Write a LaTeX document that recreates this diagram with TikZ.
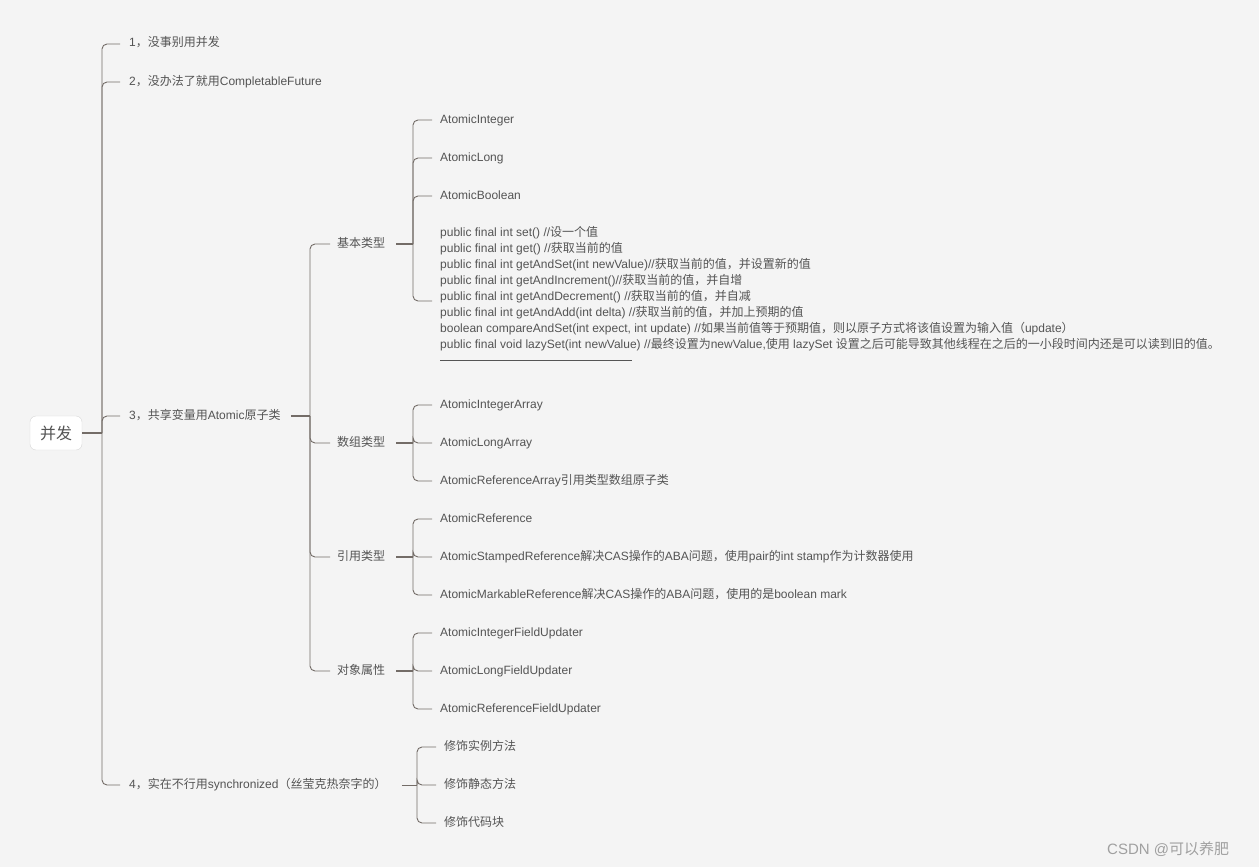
\documentclass[tikz,border=0pt]{standalone}
\usepackage{fontspec}
\setmainfont{Liberation Sans}
\newfontfamily\cjkf{Noto Sans CJK SC}
\newcount\cjkcnt
\XeTeXinterchartokenstate=1
\newXeTeXintercharclass\cjkcls
\cjkcnt="3000
\loop \XeTeXcharclass\cjkcnt=\cjkcls \advance\cjkcnt by 1 \ifnum\cjkcnt<"3040 \repeat
\cjkcnt="4E00
\loop \XeTeXcharclass\cjkcnt=\cjkcls \advance\cjkcnt by 1 \ifnum\cjkcnt<"A000 \repeat
\cjkcnt="FF00
\loop \XeTeXcharclass\cjkcnt=\cjkcls \advance\cjkcnt by 1 \ifnum\cjkcnt<"FFF0 \repeat
\XeTeXinterchartoks 0 \cjkcls = {\cjkf}
\XeTeXinterchartoks 4095 \cjkcls = {\cjkf}
\XeTeXinterchartoks \cjkcls 0 = {\rmfamily}
\XeTeXinterchartoks \cjkcls 4095 = {\rmfamily}
\definecolor{bg}{RGB}{244,244,244}
\definecolor{txt}{RGB}{84,84,84}
\definecolor{ln}{RGB}{115,108,103}
\definecolor{bd}{RGB}{215,215,215}
\definecolor{wm}{RGB}{160,160,160}
\tikzset{
  lbl/.style={anchor=west, inner sep=0pt, yshift=-2pt, text height=9pt, text depth=3pt, font=\fontsize{12}{14}\selectfont, text=txt},
  rootbox/.style={draw=bd, fill=white, rounded corners=6pt, minimum width=52pt, minimum height=34pt, inner sep=0pt, font=\fontsize{16}{18}\selectfont, text=txt},
  conn/.style={draw=ln, line width=0.9pt, rounded corners=5pt},
  stub/.style={draw=ln, line width=1.8pt},
  codeblk/.style={anchor=north west, inner sep=0pt, align=left, font=\fontsize{12}{16}\selectfont, text=txt},
}
\begin{document}
\begin{tikzpicture}[x=1pt, y=-1pt]
\fill[bg] (0,0) rectangle (1259,867);
\useasboundingbox (0,0) rectangle (1259,867);

% root
\node[rootbox] (root) at (56,433) {并发};
\coordinate (j0) at (102,433);
% level 1
\node[lbl] (a1) at (129,42) {1，没事别用并发};
\node[lbl] (a2) at (129,80) {2，没办法了就用CompletableFuture};
\node[lbl] (a3) at (129,414) {3，共享变量用Atomic原子类};
\node[lbl] (a4) at (129,783) {4，实在不行用synchronized（丝莹克热奈字的）};
\draw[stub] (root.east) -- (j0);
\foreach \n in {a1,a2,a3,a4}{ \draw[conn] (j0) |- ([xshift=-9pt]\n.west); }

% level 2 under a3
\coordinate (j3) at (310,416);
\draw[stub] ([xshift=10pt]a3.east) -- (j3);
\node[lbl] (b1) at (337,242) {基本类型};
\node[lbl] (b2) at (337,441) {数组类型};
\node[lbl] (b3) at (337,555) {引用类型};
\node[lbl] (b4) at (337,669) {对象属性};
\foreach \n in {b1,b2,b3,b4}{ \draw[conn] (j3) |- ([xshift=-7pt]\n.west); }

% level 3 under b1
\coordinate (jb1) at (413,244);
\draw[stub] ([xshift=11pt]b1.east) -- (jb1);
\node[lbl] (c11) at (440,118) {AtomicInteger};
\node[lbl] (c12) at (440,156) {AtomicLong};
\node[lbl] (c13) at (440,194) {AtomicBoolean};
\node[codeblk] (code) at (440,226) {public final int set() //设一个值\\
public final int get() //获取当前的值\\
public final int getAndSet(int newValue)//获取当前的值，并设置新的值\\
public final int getAndIncrement()//获取当前的值，并自增\\
public final int getAndDecrement() //获取当前的值，并自减\\
public final int getAndAdd(int delta) //获取当前的值，并加上预期的值\\
boolean compareAndSet(int expect, int update) //如果当前值等于预期值，则以原子方式将该值设置为输入值（update）\\
public final void lazySet(int newValue) //最终设置为newValue,使用 lazySet 设置之后可能导致其他线程在之后的一小段时间内还是可以读到旧的值。\\
\rule[3.5pt]{192pt}{0.7pt}};
\coordinate (codein) at (432,301);
\foreach \n in {c11,c12,c13}{ \draw[conn] (jb1) |- ([xshift=-8pt]\n.west); }
\draw[conn] (jb1) |- (codein);

% level 3 under b2
\coordinate (jb2) at (413,443);
\draw[stub] ([xshift=11pt]b2.east) -- (jb2);
\node[lbl] (c21) at (440,403) {AtomicIntegerArray};
\node[lbl] (c22) at (440,441) {AtomicLongArray};
\node[lbl] (c23) at (440,479) {AtomicReferenceArray引用类型数组原子类};
\foreach \n in {c21,c22,c23}{ \draw[conn] (jb2) |- ([xshift=-8pt]\n.west); }

% level 3 under b3
\coordinate (jb3) at (413,557);
\draw[stub] ([xshift=11pt]b3.east) -- (jb3);
\node[lbl] (c31) at (440,517) {AtomicReference};
\node[lbl] (c32) at (440,555) {AtomicStampedReference解决CAS操作的ABA问题，使用pair的int stamp作为计数器使用};
\node[lbl] (c33) at (440,593) {AtomicMarkableReference解决CAS操作的ABA问题，使用的是boolean mark};
\foreach \n in {c31,c32,c33}{ \draw[conn] (jb3) |- ([xshift=-8pt]\n.west); }

% level 3 under b4
\coordinate (jb4) at (413,671);
\draw[stub] ([xshift=11pt]b4.east) -- (jb4);
\node[lbl] (c41) at (440,631) {AtomicIntegerFieldUpdater};
\node[lbl] (c42) at (440,669) {AtomicLongFieldUpdater};
\node[lbl] (c43) at (440,707) {AtomicReferenceFieldUpdater};
\foreach \n in {c41,c42,c43}{ \draw[conn] (jb4) |- ([xshift=-8pt]\n.west); }

% level 2 under a4
\coordinate (j4) at (417,785);
\draw[conn] ([xshift=15pt]a4.east) -- (j4);
\node[lbl] (d1) at (444,745) {修饰实例方法};
\node[lbl] (d2) at (444,783) {修饰静态方法};
\node[lbl] (d3) at (444,821) {修饰代码块};
\foreach \n in {d1,d2,d3}{ \draw[conn] (j4) |- ([xshift=-8pt]\n.west); }

% watermark
\node[anchor=west, inner sep=0pt, font=\fontsize{15}{17}\selectfont, text=wm] (wmk) at (1107,849) {CSDN @可以养肥};
\end{tikzpicture}
\end{document}
